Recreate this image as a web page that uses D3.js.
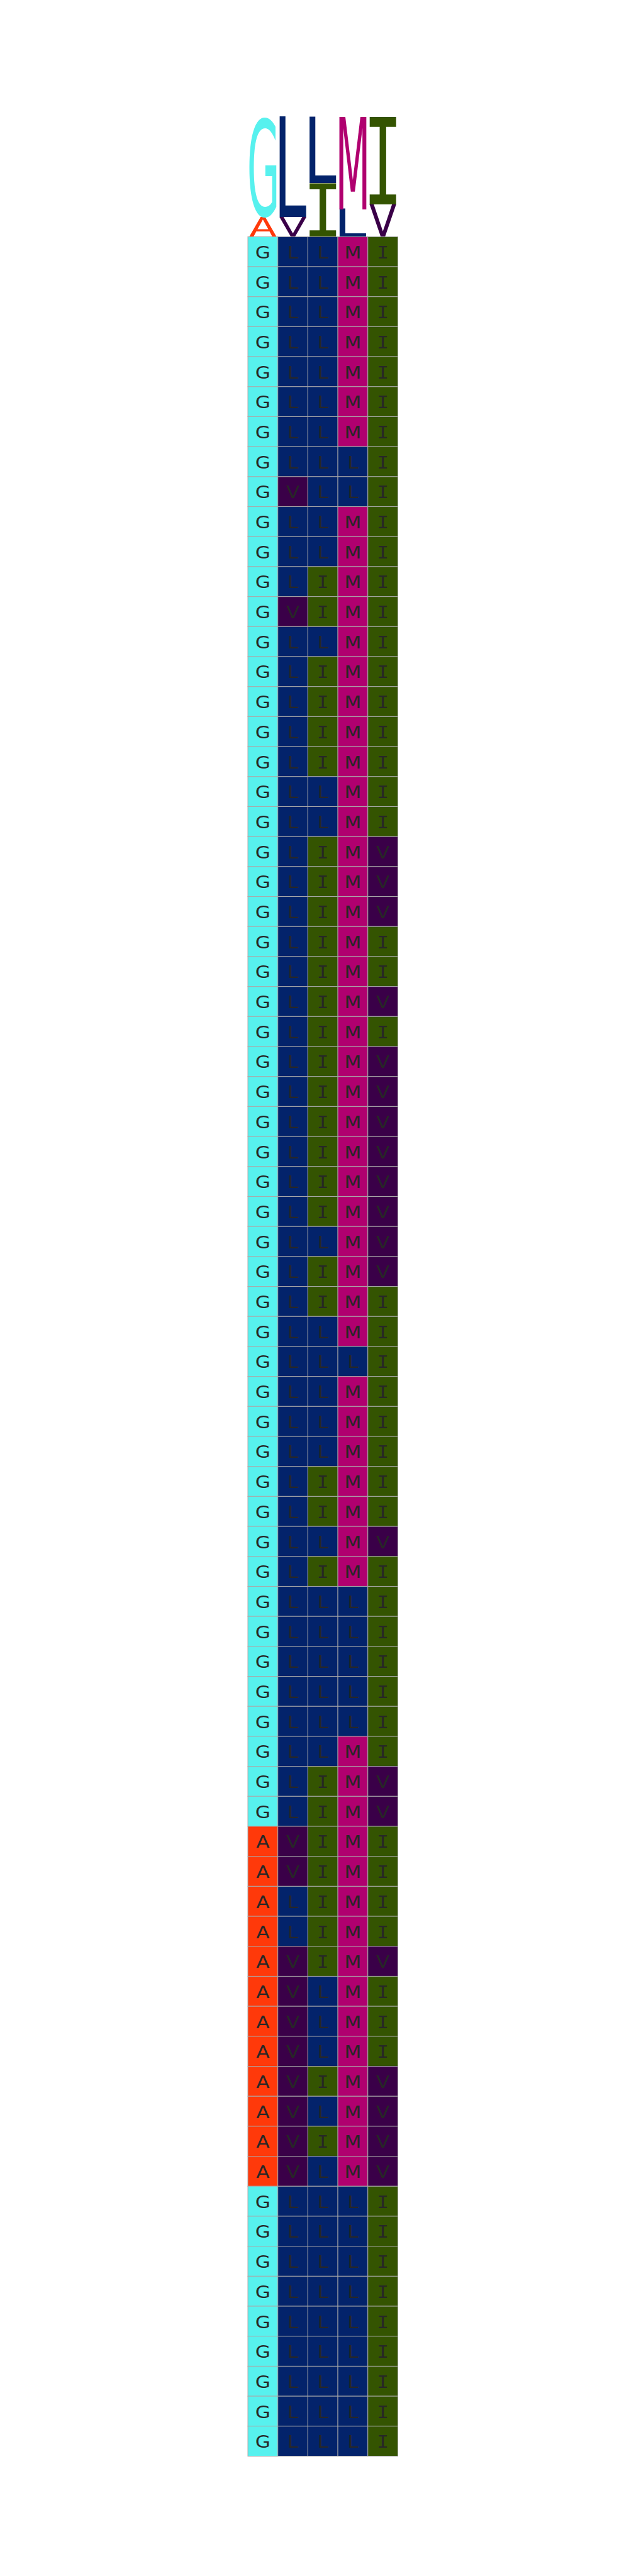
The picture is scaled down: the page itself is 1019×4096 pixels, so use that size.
<!DOCTYPE html>
<html>
<head>
<meta charset="utf-8">
<script src="https://cdn.jsdelivr.net/npm/d3@7"></script>
<style>
  html, body { margin: 0; padding: 0; background: #ffffff; }
  svg { display: block; }
</style>
</head>
<body>
<div id="chart"></div>
<script>
// ---------------- data ----------------
const positions = [1, 2, 3, 4, 5];

const sequences = [
  "GLLMI", "GLLMI", "GLLMI", "GLLMI", "GLLMI", "GLLMI", "GLLMI", "GLLLI", "GVLLI", "GLLMI",
  "GLLMI", "GLIMI", "GVIMI", "GLLMI", "GLIMI", "GLIMI", "GLIMI", "GLIMI", "GLLMI", "GLLMI",
  "GLIMV", "GLIMV", "GLIMV", "GLIMI", "GLIMI", "GLIMV", "GLIMI", "GLIMV", "GLIMV", "GLIMV",
  "GLIMV", "GLIMV", "GLIMV", "GLLMV", "GLIMV", "GLIMI", "GLLMI", "GLLLI", "GLLMI", "GLLMI",
  "GLLMI", "GLIMI", "GLIMI", "GLLMV", "GLIMI", "GLLLI", "GLLLI", "GLLLI", "GLLLI", "GLLLI",
  "GLLMI", "GLIMV", "GLIMV", "AVIMI", "AVIMI", "ALIMI", "ALIMI", "AVIMV", "AVLMI", "AVLMI",
  "AVLMI", "AVIMV", "AVLMV", "AVIMV", "AVLMV", "GLLLI", "GLLLI", "GLLLI", "GLLLI", "GLLLI",
  "GLLLI", "GLLLI", "GLLLI", "GLLLI"
];

const residues = ["G", "L", "I", "M", "V", "A"];
const residueColors = ["#57F1EE", "#03236B", "#345401", "#B0006F", "#3A0048", "#FF390A"];

// ---------------- layout ----------------
const W = 1019, H = 4096;
const S = W / 1500;              // reference -> window factor
const gridLeft = 580 * S, gridRight = 931 * S;
const gridTop = 554 * S, gridBottom = 5749 * S;
const logoTop = 273.3 * S;

const color = d3.scaleOrdinal().domain(residues).range(residueColors);

const x = d3.scaleBand().domain(positions).range([gridLeft, gridRight]);
const y = d3.scaleBand().domain(d3.range(sequences.length)).range([gridTop, gridBottom]);
const yLogo = d3.scaleLinear().domain([0, 1]).range([gridTop, logoTop]);

const fontFor = ch => ch === "I" ? '"DejaVu Sans Mono"' : '"DejaVu Sans"';

const svg = d3.select("#chart").append("svg")
  .attr("width", W).attr("height", H)
  .attr("viewBox", `0 0 ${W} ${H}`);

svg.append("rect").attr("width", W).attr("height", H).attr("fill", "#ffffff");

// ---------------- alignment grid ----------------
const cells = [];
sequences.forEach((seq, r) => {
  positions.forEach((p, c) => cells.push({ row: r, pos: p, res: seq[c] }));
});

const grid = svg.append("g").attr("class", "grid");
grid.selectAll("rect.cell").data(cells).join("rect")
  .attr("class", "cell")
  .attr("x", d => x(d.pos))
  .attr("y", d => y(d.row))
  .attr("width", x.bandwidth())
  .attr("height", y.bandwidth())
  .attr("fill", d => color(d.res))
  .attr("stroke", "#A9A9A9")
  .attr("stroke-width", 1);

const fs = 26.4;            // font-size (px) for cell letters
const capH = 0.729 * fs;
grid.selectAll("text.cellText").data(cells).join("text")
  .attr("class", "cellText")
  .attr("transform", d => `translate(${x(d.pos) + x.bandwidth() / 2},${y(d.row) + y.bandwidth() / 2 + capH / 2 + 1}) scale(1.18,1)`)
  .attr("text-anchor", "middle")
  .style("font-family", d => fontFor(d.res))
  .style("font-size", fs + "px")
  .attr("fill", "#272727")
  .text(d => d.res);

// ---------------- sequence logo ----------------
const canvas = document.createElement("canvas");
const ctx = canvas.getContext("2d");
function inkBox(ch) {
  ctx.font = `100px ${fontFor(ch)}`;
  const m = ctx.measureText(ch);
  return {
    left: m.actualBoundingBoxLeft, right: m.actualBoundingBoxRight,
    asc: m.actualBoundingBoxAscent, desc: m.actualBoundingBoxDescent
  };
}

const logoData = [];
positions.forEach((p, c) => {
  const counts = d3.rollups(sequences, v => v.length, s => s[c])
    .map(([res, n]) => ({ res, freq: n / sequences.length }))
    .sort((a, b) => a.freq - b.freq);          // smallest at the bottom
  let cum = 0;
  counts.forEach(d => {
    logoData.push({ pos: p, res: d.res, y0: cum, y1: cum + d.freq });
    cum += d.freq;
  });
});

const pad = 3 * S;
const logo = svg.append("g").attr("class", "logo");
logo.selectAll("text").data(logoData).join("text")
  .style("font-family", d => fontFor(d.res))
  .style("font-size", "100px")
  .attr("fill", d => color(d.res))
  .attr("transform", d => {
    const b = inkBox(d.res);
    const tx = x(d.pos) + pad;
    const ty = yLogo(d.y1);
    const tw = x.bandwidth() - 2 * pad;
    const th = yLogo(d.y0) - yLogo(d.y1);
    const sx = tw / (b.left + b.right);
    const sy = th / (b.asc + b.desc);
    return `translate(${tx},${ty}) scale(${sx},${sy}) translate(${b.left},${b.asc})`;
  })
  .text(d => d.res);
</script>
</body>
</html>
